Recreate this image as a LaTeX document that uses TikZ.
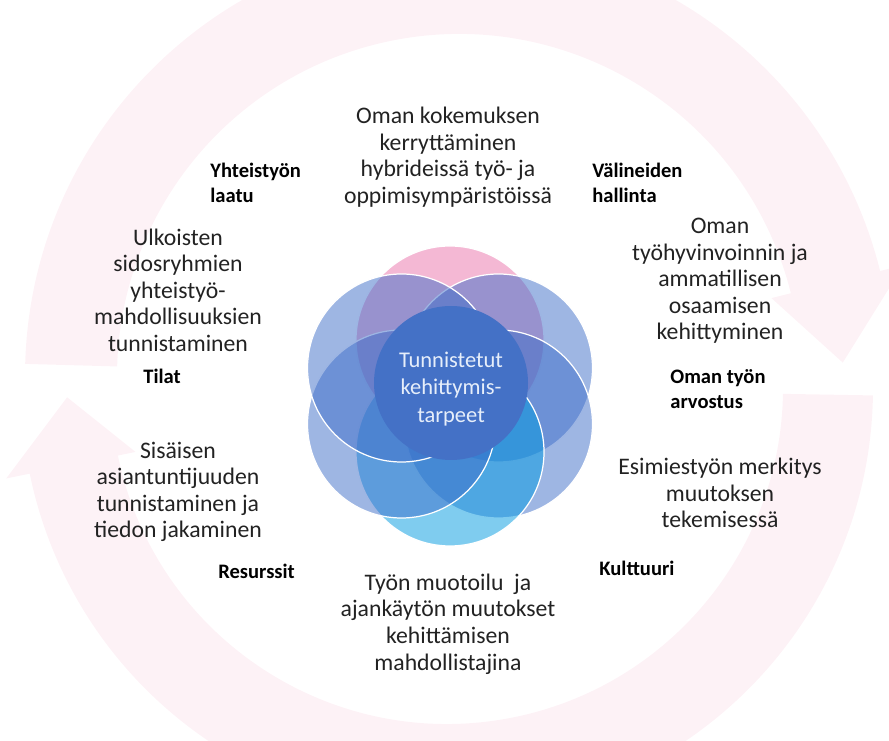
\documentclass[tikz,border=0pt]{standalone}
\usepackage{fontspec}
\setmainfont{Carlito}

\definecolor{ringpink}{RGB}{253,242,246}
\definecolor{petalblue}{RGB}{61,109,200}
\definecolor{petalpink}{RGB}{233,113,170}
\definecolor{petalcyan}{RGB}{0,153,224}
\definecolor{hubblue}{RGB}{68,113,198}
\definecolor{hubtext}{RGB}{230,238,250}
\definecolor{textgrey}{RGB}{34,34,34}

\tikzset{
  body/.style={align=center, text=textgrey, inner sep=0pt,
    font=\fontsize{13.5}{15.1}\selectfont},
  tag/.style={align=left, anchor=west, inner sep=0pt,
    font=\bfseries\fontsize{11.7}{14.2}\selectfont},
  petal/.style={fill=#1, fill opacity=0.5, draw=white, line width=0.7pt},
}

\begin{document}
\begin{tikzpicture}[x=0.2mm,y=0.2mm]
      \useasboundingbox (0,0) rectangle (889,740);

      % faint circular arrows behind
      \begin{scope}[shift={(459,364)}]
        \fill[ringpink] (178.4:434) arc[start angle=178.4, end angle=14, radius=434]
          -- (14:458) -- (2:384) -- (14:322) -- (14:342)
          arc[start angle=14, end angle=178.4, radius=342] -- cycle;
      \end{scope}
      \begin{scope}[shift={(447,352)}]
        \fill[ringpink] (-1:426) arc[start angle=-1, end angle=-168.4, radius=426]
          -- (-168.4:450) -- (-178.6:380) -- (-168.4:318) -- (-168.4:336)
          arc[start angle=-168.4, end angle=-1, radius=336] -- cycle;
      \end{scope}

      % petals
      \begin{scope}[shift={(450,344)}]
        \path[petal=petalpink] (90:56) circle[radius=94];
        \path[petal=petalblue] (30:56) circle[radius=94];
        \path[petal=petalblue] (-30:56) circle[radius=94];
        \path[petal=petalcyan] (-90:56) circle[radius=94];
        \path[petal=petalblue] (-150:56) circle[radius=94];
        \path[petal=petalblue] (150:56) circle[radius=94];
      \end{scope}

      \fill[hubblue] (451,357) circle[radius=77];
      \node[align=center, inner sep=0pt, text=hubtext,
        font=\fontsize{12.8}{15.6}\selectfont] (hub) at (451,351)
        {Tunnistetut\\kehittymis-\\tarpeet};

      \node[body] (experience) at (448,583)
        {Oman kokemuksen\\kerryttäminen\\hybrideissä työ- ja\\oppimisympäristöissä};
      \node[body] (wellbeing) at (720,459)
        {Oman\\työhyvinvoinnin ja\\ammatillisen\\osaamisen\\kehittyminen};
      \node[body] (leadership) at (720,247)
        {Esimiestyön merkitys\\muutoksen\\tekemisessä};
      \node[body] (worktime) at (448,116)
        {Työn muotoilu~ ja\\ajankäytön muutokset\\kehittämisen\\mahdollistajina};
      \node[body] (expertise) at (178,248)
        {Sisäisen\\asiantuntijuuden\\tunnistaminen ja\\tiedon jakaminen};
      \node[body] (partners) at (178,450)
        {Ulkoisten\\sidosryhmien\\yhteistyö-\\mahdollisuuksien\\tunnistaminen};

      \node[tag] (coop) at (210,557) {Yhteistyön\\laatu};
      \node[tag] (tools) at (592,557) {Välineiden\\hallinta};
      \node[tag] (worth) at (670,351) {Oman työn\\arvostus};
      \node[tag] (culture) at (599,172) {Kulttuuri};
      \node[tag] (resources) at (218,169) {Resurssit};
      \node[tag] (spaces) at (143,364) {Tilat};
\end{tikzpicture}
\end{document}
